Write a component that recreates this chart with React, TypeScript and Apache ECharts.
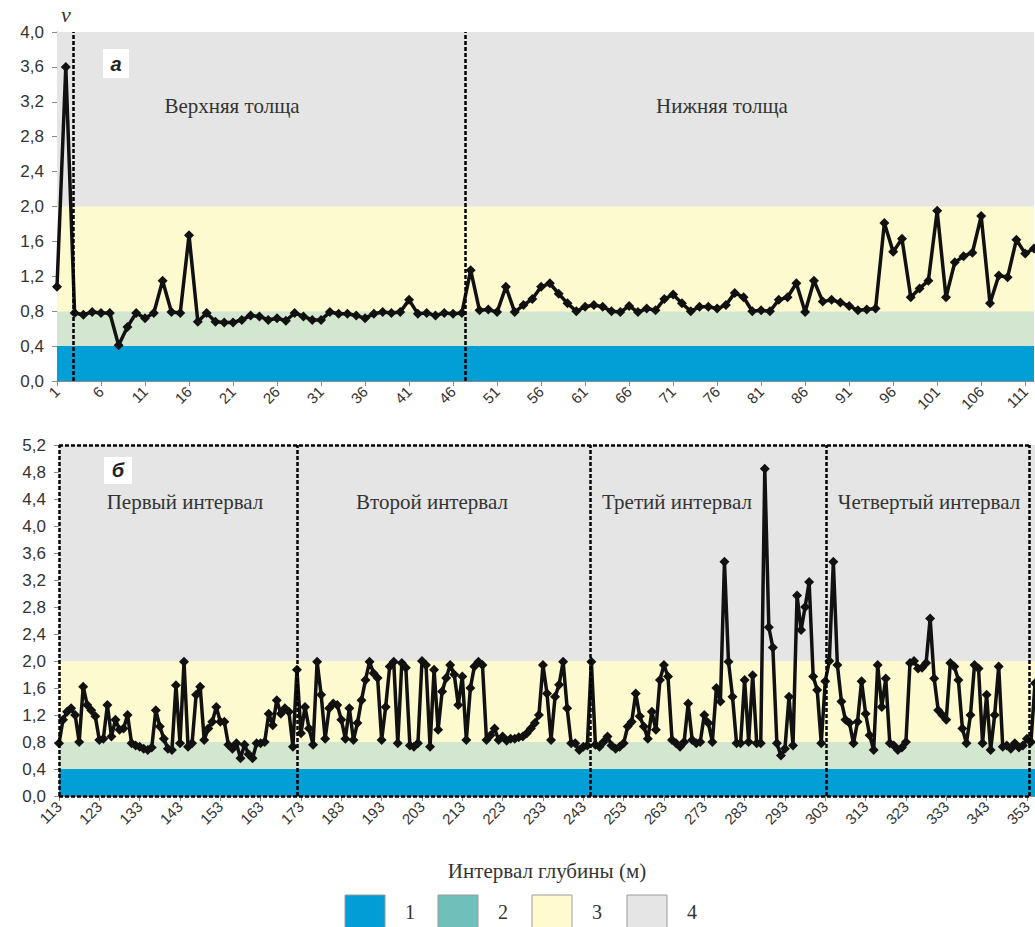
import React, { useEffect, useRef } from "react";
import * as echarts from "echarts";

// ---- data ----
const topCategories: string[] = [];
for (let i = 1; i <= 112; i++) topCategories.push(String(i));
const bottomCategories: string[] = [];
for (let i = 113; i <= 355; i++) bottomCategories.push(String(i));

const topValues = [
  1.08, 3.6, 0.78, 0.76, 0.79, 0.78, 0.78, 0.41, 0.62, 0.78,
  0.72, 0.78, 1.15, 0.79, 0.78, 1.67, 0.68, 0.78, 0.68, 0.67,
  0.67, 0.7, 0.75, 0.74, 0.7, 0.72, 0.69, 0.78, 0.74, 0.7,
  0.7, 0.79, 0.77, 0.77, 0.75, 0.72, 0.77, 0.79, 0.78, 0.79,
  0.93, 0.77, 0.78, 0.75, 0.78, 0.77, 0.78, 1.27, 0.81, 0.82,
  0.79, 1.08, 0.79, 0.87, 0.94, 1.08, 1.12, 1.0, 0.89, 0.8,
  0.85, 0.87, 0.85, 0.8, 0.79, 0.86, 0.79, 0.83, 0.81, 0.94,
  0.99, 0.89, 0.8, 0.85, 0.85, 0.83, 0.87, 1.01, 0.96, 0.8,
  0.81, 0.8, 0.93, 0.96, 1.12, 0.79, 1.15, 0.91, 0.93, 0.9,
  0.86, 0.81, 0.82, 0.83, 1.81, 1.48, 1.63, 0.96, 1.06, 1.15,
  1.95, 0.96, 1.36, 1.43, 1.47, 1.89, 0.89, 1.21, 1.19, 1.62,
  1.46, 1.52,
];

const bottomValues = [
  // 113-172
  0.78, 1.13, 1.25, 1.3, 1.2, 0.8, 1.62, 1.35, 1.27, 1.18,
  0.83, 0.85, 1.35, 0.88, 1.13, 0.98, 1.0, 1.2, 0.78, 0.75,
  0.73, 0.7, 0.68, 0.72, 1.27, 1.03, 0.85, 0.7, 0.68, 1.64,
  0.78, 1.99, 0.73, 0.78, 1.5, 1.62, 0.83, 1.0, 1.1, 1.32,
  1.1, 1.1, 0.76, 0.7, 0.78, 0.56, 0.76, 0.62, 0.56, 0.78,
  0.78, 0.8, 1.22, 1.05, 1.42, 1.22, 1.3, 1.25, 0.73, 1.87,
  // 173-244
  0.93, 1.32, 1.0, 0.76, 1.99, 1.5, 0.85, 1.3, 1.37, 1.35,
  1.13, 0.85, 1.3, 0.83, 1.08, 1.42, 1.72, 1.99, 1.82, 1.75,
  0.83, 1.32, 1.92, 1.99, 0.78, 1.97, 1.9, 0.75, 0.73, 0.78,
  2.0, 1.94, 0.73, 1.87, 0.98, 1.55, 1.75, 1.94, 1.8, 1.35,
  1.77, 0.83, 1.6, 1.92, 1.99, 1.94, 0.83, 0.9, 1.0, 0.83,
  0.88, 0.82, 0.85, 0.85, 0.87, 0.88, 0.93, 1.0, 1.08, 1.2,
  1.94, 1.52, 0.83, 1.47, 1.65, 1.99, 1.3, 0.78, 0.78, 0.68,
  0.73, 0.75,
  // 245-303
  1.99, 0.76, 0.73, 0.8, 0.88, 0.75, 0.7, 0.73, 0.78, 1.03,
  1.1, 1.52, 1.18, 1.03, 0.85, 1.25, 0.98, 1.72, 1.94, 1.77,
  0.83, 0.78, 0.73, 0.8, 1.37, 0.83, 0.78, 0.8, 1.2, 1.08,
  0.8, 1.6, 1.4, 3.47, 1.99, 1.47, 0.78, 0.78, 1.72, 0.8,
  1.79, 0.78, 0.78, 4.85, 2.5, 2.2, 0.78, 0.6, 0.7, 1.47,
  0.75, 2.97, 2.46, 2.8, 3.17, 1.77, 1.57, 0.78, 1.7,
  // 304-355
  2.0, 3.47, 1.94, 1.4, 1.13, 1.08, 0.78, 1.1, 1.7, 1.22,
  0.9, 0.68, 1.94, 1.32, 1.74, 0.78, 0.75, 0.68, 0.72, 0.8,
  1.97, 2.0, 1.89, 1.9, 1.97, 2.63, 1.74, 1.27, 1.2, 1.13,
  1.97, 1.92, 1.72, 1.0, 0.78, 1.2, 1.94, 1.89, 0.78, 1.5,
  0.68, 1.2, 1.92, 0.73, 0.75, 0.7, 0.78, 0.72, 0.75, 0.85,
  0.8, 1.67,
];

// class bands (value limits) and colours
const bandLimits = [0, 0.4, 0.8, 2.0];
const bandColors = ["#029fd6", "#d3e6cf", "#fdfad0", "#e5e5e5"];
const legendColors = ["#029cd6", "#6fbfbb", "#fffbcf", "#e5e5e5"];
const legendLabels = ["1", "2", "3", "4"];

// interval boundaries (depth positions of the dashed boxes)
const topBounds = [2.8, 47.4];
const bottomBounds = [113, 172, 244.7, 303.2, 353.5];
const topNames = ["Верхняя толща", "Нижняя толща"];
const bottomNames = ["Первый интервал", "Второй интервал", "Третий интервал", "Четвертый интервал"];

const SERIF = "'Liberation Serif', 'Times New Roman', serif";
const SANS = "'Liberation Sans', Arial, sans-serif";

function bandAreas(maxY: number) {
  const edges = [...bandLimits, maxY];
  return bandColors.map((c, i) => [
    { yAxis: edges[i], itemStyle: { color: c } },
    { yAxis: edges[i + 1] },
  ]);
}

function boxSegments(bounds: number[], maxY: number, xEnd: number) {
  const segs: any[] = [];
  bounds.forEach((b) => {
    segs.push([{ coord: [b, 0] }, { coord: [b, maxY] }]);
  });
  segs.push([{ coord: [bounds[0], 0] }, { coord: [xEnd, 0] }]);
  segs.push([{ coord: [bounds[0], maxY] }, { coord: [xEnd, maxY] }]);
  return segs;
}

const fmt = (v: number) => v.toFixed(1).replace(".", ",");

export default function App() {
  const ref = useRef<HTMLDivElement>(null);
  useEffect(() => {
    if (!ref.current) return;
    const chart = echarts.init(ref.current, undefined, { renderer: "svg" });

    const yAxisCommon = {
      type: "value" as const,
      interval: 0.4,
      axisLine: { show: true, lineStyle: { color: "#8a8a8a" } },
      axisTick: { show: true, length: 5, lineStyle: { color: "#8a8a8a" } },
      splitLine: { show: false },
      axisLabel: { formatter: fmt, fontSize: 17, color: "#333", fontFamily: SANS, margin: 13 },
    };
    const catAxisCommon = {
      type: "category" as const,
      boundaryGap: false,
      axisLine: { lineStyle: { color: "#8a8a8a" } },
      axisTick: { length: 5, lineStyle: { color: "#8a8a8a" } },
    };
    const lineStyleMain = {
      type: "line" as const,
      symbol: "diamond",
      symbolSize: 10,
      showSymbol: true,
      showAllSymbol: true,
      lineStyle: { color: "#111", width: 3.5 },
      itemStyle: { color: "#111" },
      z: 3,
      silent: true,
    };
    const dashed = { type: [4, 2] as any, color: "#000", width: 2.5 };

    const titleTexts: any[] = [];
    const centersTop = [232, 722];
    topNames.forEach((n, i) =>
      titleTexts.push({
        type: "text", x: centersTop[i], y: 106, z: 20,
        style: { text: n, font: `21px ${SERIF}`, fill: "#333", align: "center", verticalAlign: "middle" },
      })
    );
    const centersBottom = [185, 432, 677, 929];
    bottomNames.forEach((n, i) =>
      titleTexts.push({
        type: "text", x: centersBottom[i], y: 502, z: 20,
        style: { text: n, font: `21px ${SERIF}`, fill: "#333", align: "center", verticalAlign: "middle" },
      })
    );

    const legendGraphics: any[] = [];
    const legendX = [345, 438, 532, 627];
    legendColors.forEach((c, i) => {
      legendGraphics.push({
        type: "rect", shape: { x: legendX[i], y: 895, width: 40, height: 34 },
        style: { fill: c, stroke: "#9a9a9a", lineWidth: 1 },
      });
      legendGraphics.push({
        type: "text", x: legendX[i] + 65, y: 912,
        style: { text: legendLabels[i], font: `20px ${SERIF}`, fill: "#333", align: "center", verticalAlign: "middle" },
      });
    });

    chart.setOption({
      animation: false,
      backgroundColor: "#fff",
      grid: [
        { left: 57, top: 32, width: 977, height: 349 },
        { left: 59, top: 445, width: 976, height: 351 },
      ],
      xAxis: [
        {
          ...catAxisCommon, gridIndex: 0, data: topCategories,
          axisTick: { ...catAxisCommon.axisTick, interval: 4 },
          axisLabel: { interval: 4, rotate: 45, fontSize: 15, color: "#333", fontFamily: SANS, margin: 8 },
        },
        { type: "value", gridIndex: 0, min: 1, max: 112, show: false },
        {
          ...catAxisCommon, gridIndex: 1, data: bottomCategories,
          axisTick: { ...catAxisCommon.axisTick, interval: 9 },
          axisLabel: { interval: 9, rotate: 45, fontSize: 15, color: "#333", fontFamily: SANS, margin: 8 },
          name: "Интервал глубины (м)", nameLocation: "middle", nameGap: 64,
          nameTextStyle: { fontFamily: SERIF, fontSize: 21, color: "#333" },
        },
        { type: "value", gridIndex: 1, min: 113, max: 355, show: false },
      ],
      yAxis: [
        { ...yAxisCommon, gridIndex: 0, min: 0, max: 4 },
        { ...yAxisCommon, gridIndex: 1, min: 0, max: 5.2 },
      ],
      series: [
        {
          type: "line", xAxisIndex: 1, yAxisIndex: 0, data: [], z: 1, silent: true,
          markArea: { silent: true, data: bandAreas(4) },
        },
        { ...lineStyleMain, xAxisIndex: 0, yAxisIndex: 0, data: topValues },
        {
          type: "line", xAxisIndex: 1, yAxisIndex: 0, data: [], z: 4, silent: true,
          markLine: {
            silent: true, symbol: ["none", "none"], label: { show: false }, lineStyle: dashed,
            data: boxSegments(topBounds, 4, 113),
          },
        },
        {
          type: "line", xAxisIndex: 3, yAxisIndex: 1, data: [], z: 1, silent: true,
          markArea: { silent: true, data: bandAreas(5.2) },
        },
        { ...lineStyleMain, xAxisIndex: 2, yAxisIndex: 1, data: bottomValues },
        {
          type: "line", xAxisIndex: 3, yAxisIndex: 1, data: [], z: 4, silent: true,
          markLine: {
            silent: true, symbol: ["none", "none"], label: { show: false }, lineStyle: dashed,
            data: boxSegments(bottomBounds, 5.2, 353.5),
          },
        },
      ],
      graphic: [
        {
          type: "text", x: 61, y: 3,
          style: { text: "v", font: `italic 22px ${SERIF}`, fill: "#333" },
        },
        { type: "rect", shape: { x: 103, y: 49, width: 26, height: 29 }, style: { fill: "#fff" }, z: 10 },
        {
          type: "text", x: 116, y: 64, z: 11,
          style: { text: "а", font: `italic bold 20px ${SANS}`, fill: "#222", align: "center", verticalAlign: "middle" },
        },
        { type: "rect", shape: { x: 104, y: 457, width: 28, height: 27 }, style: { fill: "#fff" }, z: 10 },
        {
          type: "text", x: 118, y: 470, z: 11,
          style: { text: "б", font: `italic bold 20px ${SANS}`, fill: "#222", align: "center", verticalAlign: "middle" },
        },
        ...titleTexts,
        ...legendGraphics,
      ],
    });
    return () => chart.dispose();
  }, []);
  return (
    <div
      ref={ref}
      style={{ position: "fixed", left: 0, top: 0, width: 1035, height: 927 }}
    />
  );
}
